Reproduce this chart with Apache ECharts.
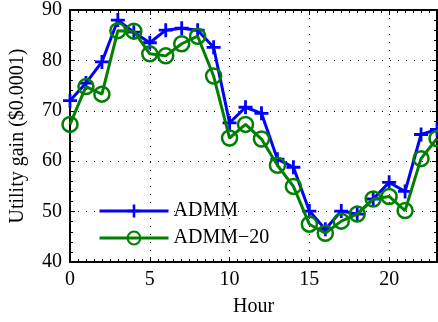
<!DOCTYPE html>
<html>
<head>
<meta charset="utf-8">
<script src="https://cdn.jsdelivr.net/npm/echarts@6/dist/echarts.min.js"></script>
<style>
  html, body { margin: 0; padding: 0; background: #fff; }
  #chart { width: 438px; height: 322px; }
</style>
</head>
<body>
<div id="chart"></div>
<script>
// hours 0..23
const hours = [0, 1, 2, 3, 4, 5, 6, 7, 8, 9, 10, 11, 12, 13, 14, 15, 16, 17, 18, 19, 20, 21, 22, 23];
const admm = [72, 75.5, 79.7, 88, 85.6, 83.5, 86, 86.4, 86, 82.6, 67.6, 70.7, 69.5, 60.4, 58.8, 50.1, 46.5, 50.1, 49.5, 52.5, 55.8, 54, 65.3, 66.3];
const admm20 = [67.3, 74.8, 73.3, 85.9, 85.8, 81.3, 80.9, 83.3, 84.8, 76.9, 64.6, 67.3, 64.4, 59.2, 55, 47.5, 45.7, 48.1, 49.5, 52.5, 53, 50.2, 60.5, 64.5];

const serif = 'Liberation Serif';
const plus = 'path://M5.6,0H8.4V5.6H14V8.4H8.4V14H5.6V8.4H0V5.6H5.6Z';

const chart = echarts.init(document.getElementById('chart'));

const dotted = { show: true, lineStyle: { color: '#000', width: 1, type: [1, 7] } };

const option = {
  animation: false,
  textStyle: { fontFamily: serif },
  grid: { left: 68, right: 1, top: 10, bottom: 59, show: false },
  legend: {
    orient: 'vertical',
    left: 93,
    top: 196,
    itemWidth: 69,
    itemHeight: 16,
    itemGap: 7,
    lineStyle: { width: 3 },
    textStyle: { fontFamily: serif, fontSize: 20, color: '#000' },
    data: ['ADMM', 'ADMM\u221220']
  },
  xAxis: [
    {
      type: 'value', min: 0, max: 23, interval: 5,
      name: 'Hour', nameLocation: 'middle', nameGap: 35,
      nameTextStyle: { fontFamily: serif, fontSize: 20, color: '#000' },
      axisLine: { show: true, onZero: false, lineStyle: { color: '#000', width: 2 } },
      axisTick: { inside: true, length: 5, lineStyle: { color: '#000' } },
      minorTick: { show: true, splitNumber: 10, length: 3, lineStyle: { color: '#000' } },
      axisLabel: { fontFamily: serif, fontSize: 20, color: '#000', margin: 8, showMaxLabel: false },
      splitLine: dotted
    },
    {
      type: 'value', min: 0, max: 23, interval: 5, position: 'top',
      axisLine: { show: true, onZero: false, lineStyle: { color: '#000', width: 2 } },
      axisTick: { inside: true, length: 5, lineStyle: { color: '#000' } },
      minorTick: { show: true, splitNumber: 10, length: 3, lineStyle: { color: '#000' } },
      axisLabel: { show: false },
      splitLine: { show: false }
    }
  ],
  yAxis: [
    {
      type: 'value', min: 40, max: 90, interval: 10,
      name: 'Utility gain ($0.0001)', nameLocation: 'middle', nameGap: 42,
      nameTextStyle: { fontFamily: serif, fontSize: 20, color: '#000' },
      axisLine: { show: true, onZero: false, lineStyle: { color: '#000', width: 2 } },
      axisTick: { inside: true, length: 5, lineStyle: { color: '#000' } },
      minorTick: { show: true, splitNumber: 5, length: 3, lineStyle: { color: '#000' } },
      axisLabel: { fontFamily: serif, fontSize: 20, color: '#000', margin: 8 },
      splitLine: dotted
    },
    {
      type: 'value', min: 40, max: 90, interval: 10, position: 'right',
      axisLine: { show: true, onZero: false, lineStyle: { color: '#000', width: 2 } },
      axisTick: { inside: true, length: 5, lineStyle: { color: '#000' } },
      minorTick: { show: true, splitNumber: 5, length: 3, lineStyle: { color: '#000' } },
      axisLabel: { show: false },
      splitLine: { show: false }
    }
  ],
  series: [
    {
      name: 'ADMM',
      type: 'line',
      data: hours.map((h, i) => [h, admm[i]]),
      symbol: plus,
      symbolSize: 14,
      showAllSymbol: true,
      color: '#0000ff',
      lineStyle: { color: '#0000ff', width: 3 },
      itemStyle: { color: '#0000ff', borderWidth: 0 },
      z: 2
    },
    {
      name: 'ADMM\u221220',
      type: 'line',
      data: hours.map((h, i) => [h, admm20[i]]),
      symbol: 'circle',
      symbolSize: 15,
      showAllSymbol: true,
      color: '#008000',
      lineStyle: { color: '#008000', width: 3 },
      itemStyle: { color: 'rgba(0,0,0,0)', borderColor: '#008000', borderWidth: 2.5 },
      z: 3
    }
  ]
};

chart.setOption(option);
</script>
</body>
</html>
